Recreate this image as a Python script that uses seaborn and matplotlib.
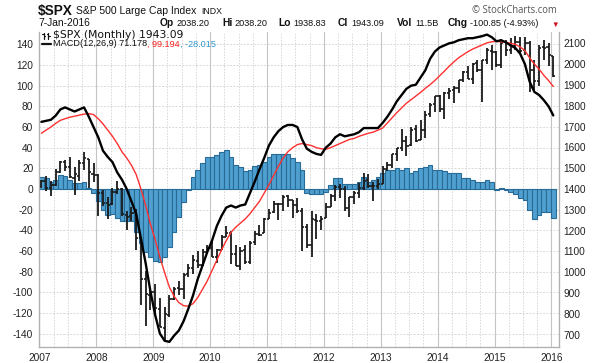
import numpy as np
import pandas as pd
import matplotlib
matplotlib.use("Agg")
import matplotlib.pyplot as plt
import seaborn as sns
from matplotlib.lines import Line2D

# ---------------- data (monthly, Jan 2007 .. Jan 2016) ----------------
years = ['2007', '2008', '2009', '2010', '2011', '2012', '2013', '2014', '2015', '2016']

opens = [1418.03, 1437.90, 1406.80, 1420.83, 1482.37, 1530.62, 1504.66, 1455.18, 1463.36, 1527.29, 1545.79, 1471.83,
         1467.97, 1378.60, 1330.45, 1326.41, 1385.97, 1399.62, 1276.69, 1269.42, 1287.83, 1164.17, 968.67, 888.61,
         902.99, 823.09, 729.57, 793.59, 872.74, 923.26, 920.82, 990.22, 1019.52, 1054.91, 1036.18, 1098.89,
         1116.56, 1073.89, 1105.36, 1171.23, 1188.58, 1087.30, 1031.10, 1107.53, 1049.72, 1143.49, 1185.71, 1186.60,
         1257.62, 1289.14, 1328.64, 1329.48, 1365.21, 1345.20, 1320.64, 1292.59, 1219.12, 1131.21, 1251.00, 1246.91,
         1258.86, 1312.45, 1365.90, 1408.47, 1397.86, 1309.87, 1362.33, 1379.32, 1406.54, 1440.90, 1412.20, 1416.34,
         1426.19, 1497.86, 1514.68, 1569.18, 1597.55, 1631.71, 1609.78, 1689.42, 1635.95, 1682.41, 1758.70, 1806.55,
         1845.86, 1782.68, 1859.45, 1873.96, 1884.66, 1923.87, 1962.29, 1929.80, 2004.07, 1971.44, 2018.21, 2065.78,
         2058.90, 1996.67, 2105.23, 2067.63, 2087.38, 2108.64, 2067.00, 2104.49, 1970.09, 1919.65, 2080.76, 2082.93,
         2038.20]
highs = [1441.61, 1461.57, 1438.89, 1498.02, 1535.56, 1540.56, 1555.90, 1503.89, 1538.74, 1576.09, 1545.79, 1523.57,
         1471.77, 1396.02, 1359.68, 1404.57, 1440.24, 1404.05, 1292.17, 1313.15, 1303.04, 1167.03, 1007.51, 918.85,
         943.85, 875.01, 832.98, 888.70, 930.17, 956.23, 996.68, 1039.47, 1080.15, 1101.36, 1113.69, 1130.38,
         1150.45, 1112.42, 1180.16, 1219.80, 1200.26, 1131.23, 1120.95, 1129.24, 1148.90, 1196.14, 1227.08, 1262.60,
         1302.67, 1344.07, 1332.28, 1370.58, 1370.58, 1345.20, 1356.48, 1307.38, 1229.29, 1292.66, 1277.55, 1269.37,
         1333.47, 1378.04, 1419.15, 1422.38, 1415.32, 1363.46, 1391.74, 1426.68, 1474.51, 1470.96, 1434.27, 1448.00,
         1509.94, 1530.94, 1570.28, 1597.57, 1687.18, 1654.19, 1698.78, 1709.67, 1729.86, 1775.22, 1813.55, 1849.44,
         1850.84, 1867.92, 1883.97, 1897.28, 1924.03, 1968.17, 1991.39, 2005.04, 2019.26, 2018.19, 2075.76, 2093.55,
         2064.43, 2119.59, 2117.52, 2125.92, 2134.72, 2129.87, 2132.82, 2112.66, 2020.86, 2094.32, 2116.48, 2104.27,
         2038.20]
lows = [1403.97, 1389.42, 1363.98, 1416.37, 1476.70, 1484.18, 1454.25, 1370.60, 1439.29, 1489.56, 1406.10, 1435.65,
        1270.05, 1316.75, 1256.98, 1324.35, 1373.72, 1272.00, 1200.44, 1247.45, 1106.42, 839.80, 741.02, 815.69,
        804.30, 734.52, 666.79, 783.32, 866.10, 888.86, 869.32, 978.51, 992.25, 1020.18, 1029.38, 1085.89,
        1071.59, 1044.50, 1105.24, 1170.69, 1040.78, 1028.33, 1010.91, 1039.70, 1039.70, 1131.87, 1173.00, 1186.60,
        1257.62, 1282.86, 1249.05, 1294.70, 1311.80, 1258.07, 1282.86, 1101.54, 1114.22, 1074.77, 1158.66, 1202.37,
        1258.86, 1312.41, 1340.03, 1357.38, 1291.98, 1266.74, 1325.41, 1354.65, 1396.56, 1403.28, 1343.35, 1398.11,
        1426.19, 1485.01, 1501.48, 1536.03, 1581.28, 1560.33, 1604.57, 1627.47, 1633.41, 1646.47, 1746.20, 1767.99,
        1770.45, 1737.92, 1834.44, 1814.36, 1859.79, 1915.98, 1930.67, 1904.78, 1964.04, 1820.66, 2001.01, 1972.56,
        1988.44, 1980.90, 2039.69, 2048.38, 2067.93, 2056.32, 2044.02, 1867.01, 1871.91, 1893.70, 2019.39, 1993.26,
        1938.83]
closes = [1438.24, 1406.82, 1420.86, 1482.37, 1530.62, 1503.35, 1455.27, 1473.99, 1526.75, 1549.38, 1481.14, 1468.36,
          1378.55, 1330.63, 1322.70, 1385.59, 1400.38, 1280.00, 1267.38, 1282.83, 1166.36, 968.75, 896.24, 903.25,
          825.88, 735.09, 797.87, 872.81, 919.14, 919.32, 987.48, 1020.62, 1057.08, 1036.19, 1095.63, 1115.10,
          1073.87, 1104.49, 1169.43, 1186.69, 1089.41, 1030.71, 1101.60, 1049.33, 1141.20, 1183.26, 1180.55, 1257.64,
          1286.12, 1327.22, 1325.83, 1363.61, 1345.20, 1320.64, 1292.28, 1218.89, 1131.42, 1253.30, 1246.96, 1257.60,
          1312.41, 1365.68, 1408.47, 1397.91, 1310.33, 1362.16, 1379.32, 1406.58, 1440.67, 1412.16, 1416.18, 1426.19,
          1498.11, 1514.68, 1569.19, 1597.57, 1630.74, 1606.28, 1685.73, 1632.97, 1681.55, 1756.54, 1805.81, 1848.36,
          1782.59, 1859.45, 1872.34, 1883.95, 1923.57, 1960.23, 1930.67, 2003.37, 1972.29, 2018.05, 2067.56, 2058.90,
          1994.99, 2104.50, 2067.89, 2085.51, 2107.39, 2063.11, 2103.84, 1972.18, 1920.03, 2079.36, 2080.41, 2043.94,
          1943.09]

macd = [65, 66, 67, 71, 77, 79, 77, 75, 77, 79, 70, 60,
        50, 37, 31, 26, 16, 9, 0, -12, -24, -48, -72, -99,
        -122, -140, -147, -148, -142, -137, -128, -116, -103, -87, -74, -61,
        -50, -36, -26, -18, -16, -18, -16, -15, -4, 7, 19, 30,
        42, 50, 56, 60, 62, 62, 60, 48, 39, 36, 34, 33,
        40, 44, 50, 53, 51, 52, 53, 55, 59, 59, 59, 59,
        64, 70, 77, 85, 91, 97, 100, 101, 108, 115, 126, 133,
        137, 139, 141, 142, 144, 145, 146, 146, 147, 148, 149.5, 147,
        143, 144, 142, 139, 136.5, 131, 121, 104, 94, 91, 86, 80,
        71.178]
signal = [54, 57, 60, 63.5, 66.5, 68, 69.5, 70.5, 71.5, 72.5, 73, 72,
          68, 63, 57, 51, 44, 36, 30, 23, 14, 0, -16, -34,
          -49, -66, -81, -95, -104, -110, -113, -113.5, -111, -105, -97, -89,
          -79, -69, -59, -50, -42, -37, -33, -29, -24, -18, -12, -4,
          4, 13, 22, 30, 36, 40, 43, 44, 43, 42, 40, 39,
          38.5, 40, 42, 44, 46, 48, 49, 51, 52.5, 54, 55, 57,
          59, 64, 69, 74, 78.5, 83, 86.5, 90, 93.5, 97.5, 101, 105,
          109.5, 114, 118.7, 123, 127, 130, 133, 135.5, 137.5, 139.5, 141.5, 142.5,
          143, 142.5, 142, 141, 140, 137.5, 134, 127, 121, 116, 110, 105,
          99.194]
hist = [12, 10.5, 7, 8.5, 13.5, 13, 8.5, 5.5, 5.5, 6.5, 0.5, -4,
        -12, -20, -25, -24, -28, -31, -31, -31, -42, -52, -61, -66,
        -70, -71, -66, -56, -42, -27, -13, -1, 12, 18, 25, 31,
        31, 33, 36, 38, 31, 23, 21, 17, 18, 22, 23, 26.5,
        31, 34, 34, 34, 34, 30, 26.5, 18.4, -4, -5, -5, -5,
        -2.5, 4, 11, 11, 5, 5, 5, 7, 12, 7, 8.7, 12,
        15, 18.4, 18.4, 20, 18.4, 20, 15, 17, 20, 21.7, 23.3, 18.4,
        18.4, 17, 15, 15, 15, 11, 11, 9, 7, 7, 8.7, 7,
        -1, 0.5, -1, -3, -5, -9, -11, -20, -29.5, -25, -22, -22,
        -28.015]

left_ticks = list(range(-140, 141, 20))
right_ticks = list(range(700, 2101, 100))

# ---------------- figure ----------------
sns.set_theme(style="white")
plt.rcParams['font.family'] = ['Liberation Sans', 'DejaVu Sans']

W, H = 600, 363
fig = plt.figure(figsize=(W / 100, H / 100), dpi=100)
L, R, T, B = 39.5, 559, 32, 347
ax = fig.add_axes([L / W, 1 - B / H, (R - L) / W, (B - T) / H])
ax2 = ax.twinx()
ax3 = ax.twinx()

n = len(closes)
xs = np.arange(n) + 0.4
df = pd.DataFrame({'x': xs, 'open': opens, 'high': highs, 'low': lows, 'close': closes,
                   'macd': macd, 'signal': signal, 'hist': hist})

ylim_l = (-153, 152)
ylim_r = (640, 2155)
xlim = (0, 109.6)

# grid on bottom axes
for v in left_ticks:
    ax.axhline(v, color='#d9d9d9', lw=0.7, ls=(0, (2, 1.5)), zorder=0)
for q in range(0, 110, 3):
    if q % 12 == 0:
        ax.axvline(q, color='#c4c4c4', lw=0.8, zorder=0)
    else:
        ax.axvline(q, color='#d6d6d6', lw=0.7, ls=(0, (1.5, 1.5)), zorder=0)

# histogram
ax.bar(df['x'], df['hist'], width=1.0, color='#4f9fd0', edgecolor='#276b96', linewidth=0.8, zorder=2)
ax.set_xlim(*xlim)
ax.set_ylim(*ylim_l)

# OHLC bars on price axis
ax2.vlines(df['x'], df['low'], df['high'], color='#1a1a1a', lw=1.3, zorder=3)
ax2.hlines(df['open'], df['x'] - 0.45, df['x'], color='#1a1a1a', lw=1.2, zorder=3)
ax2.hlines(df['close'], df['x'], df['x'] + 0.45, color='#1a1a1a', lw=1.2, zorder=3)
ax2.set_ylim(*ylim_r)

# MACD lines on top
sns.lineplot(data=df, x='x', y='signal', ax=ax3, color='#ff3030', lw=1.0, zorder=4)
sns.lineplot(data=df, x='x', y='macd', ax=ax3, color='black', lw=1.7, zorder=5)
ax3.set_ylim(*ylim_l)
ax3.set_xlim(*xlim)

# axes styling
tick_kw = dict(labelsize=7.3, colors='#222222', length=0)
ax.set_yticks(left_ticks)
ax.set_yticklabels([str(v) for v in left_ticks])
ax.tick_params(axis='y', pad=4.5, **tick_kw)
ax.set_xticks(range(0, 109, 12))
ax.set_xticklabels(years)
ax.tick_params(axis='x', pad=4, **tick_kw)
ax.set_xlabel('')
ax.set_ylabel('')
ax2.set_yticks(right_ticks)
ax2.set_yticklabels([str(v) for v in right_ticks])
ax2.tick_params(axis='y', pad=3, **tick_kw)
ax3.set_yticks([])
ax3.set_xlabel('')
ax3.set_ylabel('')
ax2.set_ylabel('')
for a in (ax, ax2, ax3):
    for s in a.spines.values():
        s.set_color('#b0b0b0')
        s.set_linewidth(0.8)
    a.spines['top'].set_visible(False)

# ---------------- header texts ----------------
renderer = fig.canvas.get_renderer()


def put(x, y, s, **kw):
    return fig.text(x / W, 1 - y / H, s, va='baseline', **kw)


def seq(x, y, parts, target=None):
    """Place text pieces one after another; optionally scale so total width = target px."""
    arts = []
    x0 = x
    for s, kw in parts:
        t = put(x, y, s, **kw)
        x += t.get_window_extent(renderer=renderer).width
        arts.append(t)
    if target is not None:
        k = target / (x - x0)
        for t in arts:
            t.remove()
        parts = [(s, dict(kw, fontsize=kw.get('fontsize', 7) * k)) for s, kw in parts]
        return seq(x0, y, parts)
    return x


seq(38, 14.5, [('$SPX', dict(fontsize=9.6, fontweight='bold', color='#111')),
               (' ', dict(fontsize=7.3)),
               ('S&P 500 Large Cap Index', dict(fontsize=7.3, color='#111')),
               ('  ', dict(fontsize=6)),
               ('INDX', dict(fontsize=6.2, color='#111'))], target=184)
seq(38, 26.5, [('7-Jan-2016', dict(fontsize=6.6, color='#111'))], target=52)
hdr = [(160, 'Op', '2038.20'), (222, 'Hi', '2038.20'), (278, 'Lo', '1938.83'),
       (338, 'Cl', '1943.09'), (397, 'Vol', '11.5B'), (448, 'Chg', '-100.85 (-4.93%)')]
for x0, lab, val in hdr:
    seq(x0, 26.5, [(lab, dict(fontsize=7.4, fontweight='bold', color='#111')),
                   (' ', dict(fontsize=6.6)),
                   (val, dict(fontsize=6.6, color='#111'))])
put(559, 26.5, '\u25bc', fontsize=5.5, color='#cc1020', ha='right')
seq(472, 13, [('\u00a9 StockCharts.com', dict(fontsize=7.0, color='#555555',
                                              family=['Open Sans', 'DejaVu Sans']))], target=86)

# legend inside plot
seq(53, 38, [('$SPX (Monthly) 1943.09', dict(color='#111', fontsize=7, family=['DejaVu Sans']))],
    target=130)
lf = dict(fontsize=6.8, family=['Liberation Sans', 'DejaVu Sans'])
seq(53, 46.5, [('MACD(12,26,9) 71.178', dict(color='#111', **lf)),
               (', 99.194', dict(color='#ff2020', **lf)),
               (', -28.015', dict(color='#3399cc', **lf))], target=164)
# legend glyphs
fx = lambda x: x / W
fy = lambda y: 1 - y / H
for x0 in (43.5, 48.5):
    fig.add_artist(Line2D([fx(x0), fx(x0)], [fy(32.5), fy(38.5)], color='#111', lw=0.9))
    fig.add_artist(Line2D([fx(x0 - 1.5), fx(x0)], [fy(34), fy(34)], color='#111', lw=0.8))
    fig.add_artist(Line2D([fx(x0), fx(x0 + 1.5)], [fy(36), fy(36)], color='#111', lw=0.8))
fig.add_artist(Line2D([fx(42), fx(51)], [fy(43.5), fy(43.5)], color='#111', lw=1.6))

fig.savefig('out.png', dpi=100)
